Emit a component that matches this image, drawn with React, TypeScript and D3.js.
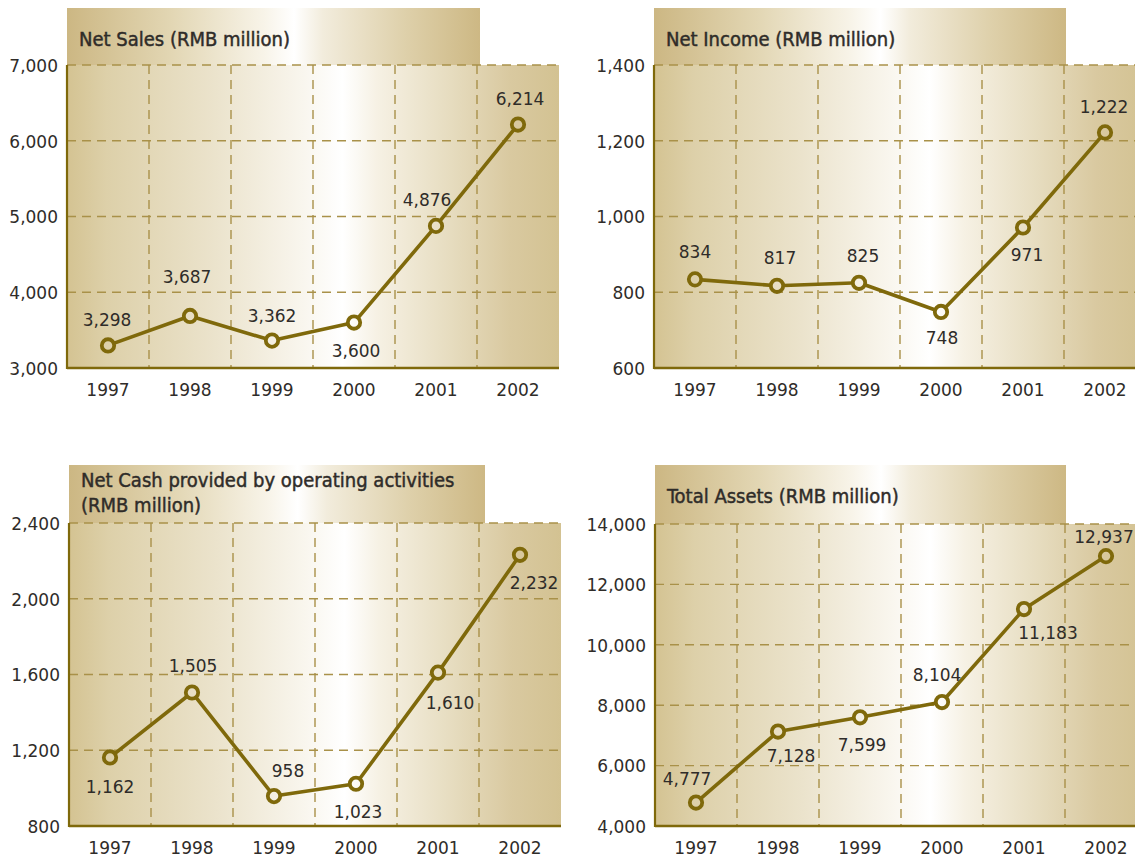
import React, { useEffect, useRef } from "react";
import * as d3 from "d3";

// chart data
const years = ["1997", "1998", "1999", "2000", "2001", "2002"];
const netSales = [3298, 3687, 3362, 3600, 4876, 6214];
const netIncome = [834, 817, 825, 748, 971, 1222];
const netCash = [1162, 1505, 958, 1023, 1610, 2232];
const totalAssets = [4777, 7128, 7599, 8104, 11183, 12937];

const salesTicks = [3000, 4000, 5000, 6000, 7000];
const incomeTicks = [600, 800, 1000, 1200, 1400];
const cashTicks = [800, 1200, 1600, 2000, 2400];
const assetTicks = [4000, 6000, 8000, 10000, 12000, 14000];

const salesTitle = ["Net Sales (RMB million)"];
const incomeTitle = ["Net Income (RMB million)"];
const cashTitle = ["Net Cash provided by operating activities", "(RMB million)"];
const assetTitle = ["Total Assets (RMB million)"];

// layout of each small chart (pixels)
const panels = [
  { values: netSales, ticks: salesTicks, title: salesTitle, x0: 67, top: 65, bottom: 368, titleTop: 8, titleW: 413,
    offs: [[-1, -26], [-3, -39], [0, -25], [2, 28], [-9, -26], [2, -26]] },
  { values: netIncome, ticks: incomeTicks, title: incomeTitle, x0: 654, top: 65, bottom: 368, titleTop: 8, titleW: 412,
    offs: [[0, -27], [3, -28], [4, -27], [1, 26], [4, 27], [-1, -26]] },
  { values: netCash, ticks: cashTicks, title: cashTitle, x0: 69, top: 523, bottom: 826, titleTop: 465, titleW: 416,
    offs: [[0, 29], [1, -27], [14, -25], [2, 28], [12, 30], [14, 28]] },
  { values: totalAssets, ticks: assetTicks, title: assetTitle, x0: 655, top: 524, bottom: 826, titleTop: 465, titleW: 411,
    offs: [[-9, -24], [13, 24], [2, 28], [-5, -27], [24, 24], [-2, -19]] },
];

const LINE = "#7f690b";
const GRID = "#a99149";
const TEXT = "#2f2c29";
const fmt = d3.format(",");

function App() {
  const svgRef = useRef(null);

  useEffect(() => {
    const svg = d3.select(svgRef.current);
    if (!svg.node()) return;
    svg.selectAll("*").remove();
    const defs = svg.append("defs");

    panels.forEach((p, i) => {
      const plotW = 492;
      const x = d3.scaleBand().domain(years).range([p.x0, p.x0 + plotW]);
      const y = d3
        .scaleLinear()
        .domain([p.ticks[0], p.ticks[p.ticks.length - 1]])
        .range([p.bottom, p.top]);

      // background gradients
      const bg = defs.append("linearGradient").attr("id", "bg" + i)
        .attr("gradientUnits", "userSpaceOnUse")
        .attr("x1", p.x0).attr("x2", p.x0 + plotW).attr("y1", 0).attr("y2", 0);
      [[0, "#d4c392"], [0.08, "#ddd0a9"], [0.3, "#ebe3cc"], [0.48, "#f9f6ee"], [0.56, "#ffffff"],
        [0.63, "#f6f1e4"], [0.78, "#e6dcbf"], [0.9, "#d9c9a0"], [1, "#d3c292"]]
        .forEach(([o, c]) => bg.append("stop").attr("offset", o).attr("stop-color", c));

      const tg = defs.append("linearGradient").attr("id", "tg" + i)
        .attr("gradientUnits", "userSpaceOnUse")
        .attr("x1", p.x0).attr("x2", p.x0 + p.titleW).attr("y1", 0).attr("y2", 0);
      [[0, "#ccb783"], [0.25, "#e2d6b3"], [0.48, "#f8f4e9"], [0.55, "#ffffff"], [0.62, "#f2ecdc"],
        [0.82, "#ded0aa"], [1, "#cdb884"]]
        .forEach(([o, c]) => tg.append("stop").attr("offset", o).attr("stop-color", c));

      const g = svg.append("g");

      g.append("rect")
        .attr("x", p.x0).attr("y", p.titleTop)
        .attr("width", p.titleW).attr("height", p.top - p.titleTop)
        .attr("fill", `url(#tg${i})`);

      g.append("rect")
        .attr("x", p.x0).attr("y", p.top)
        .attr("width", plotW).attr("height", p.bottom - p.top)
        .attr("fill", `url(#bg${i})`);

      // title
      p.title.forEach((t, k) => {
        g.append("text")
          .attr("x", p.x0 + 12)
          .attr("y", p.title.length > 1 ? p.titleTop + 22 + k * 25 : p.titleTop + 38)
          .attr("font-family", "'DejaVu Sans Condensed', 'DejaVu Sans', sans-serif")
          .attr("font-size", 20)
          .attr("fill", TEXT)
          .attr("stroke", TEXT).attr("stroke-width", 0.45)
          .text(t);
      });

      // horizontal grid
      g.selectAll(".hg").data(p.ticks.slice(1)).join("line")
        .attr("x1", p.x0).attr("x2", p.x0 + plotW)
        .attr("y1", (d) => y(d)).attr("y2", (d) => y(d))
        .attr("stroke", GRID).attr("stroke-width", 1.4).attr("stroke-dasharray", "9,6");

      // vertical grid at band edges
      g.selectAll(".vg").data(years.slice(1)).join("line")
        .attr("x1", (d) => x(d)).attr("x2", (d) => x(d))
        .attr("y1", p.top).attr("y2", p.bottom)
        .attr("stroke", GRID).attr("stroke-width", 1.4).attr("stroke-dasharray", "9,6");

      // axes
      g.append("line").attr("x1", p.x0).attr("x2", p.x0).attr("y1", p.top).attr("y2", p.bottom + 1)
        .attr("stroke", LINE).attr("stroke-width", 2.2);
      g.append("line").attr("x1", p.x0).attr("x2", p.x0 + plotW).attr("y1", p.bottom).attr("y2", p.bottom)
        .attr("stroke", LINE).attr("stroke-width", 2.4);

      // tick labels
      g.selectAll(".yl").data(p.ticks).join("text")
        .attr("x", p.x0 - 9).attr("y", (d) => y(d)).attr("dy", "0.4em")
        .attr("text-anchor", "end")
        .attr("font-family", "'DejaVu Sans', sans-serif").attr("font-size", 17)
        .attr("fill", TEXT)
        .text((d) => fmt(d));

      g.selectAll(".xl").data(years).join("text")
        .attr("x", (d) => x(d) + x.bandwidth() / 2).attr("y", p.bottom + 22).attr("dy", "0.36em")
        .attr("text-anchor", "middle")
        .attr("font-family", "'DejaVu Sans', sans-serif").attr("font-size", 17)
        .attr("fill", TEXT)
        .text((d) => d);

      // line + markers
      const cx = (j) => x(years[j]) + x.bandwidth() / 2;
      const line = d3.line().x((d, j) => cx(j)).y((d) => y(d));
      g.append("path").datum(p.values)
        .attr("d", line).attr("fill", "none")
        .attr("stroke", LINE).attr("stroke-width", 3.6).attr("stroke-linejoin", "round");

      g.selectAll(".pt").data(p.values).join("circle")
        .attr("cx", (d, j) => cx(j)).attr("cy", (d) => y(d)).attr("r", 6.2)
        .attr("fill", `url(#bg${i})`)
        .attr("stroke", LINE).attr("stroke-width", 3.8);

      g.selectAll(".vl").data(p.values).join("text")
        .attr("x", (d, j) => cx(j) + p.offs[j][0])
        .attr("y", (d, j) => y(d) + p.offs[j][1]).attr("dy", "0.36em")
        .attr("text-anchor", "middle")
        .attr("font-family", "'DejaVu Sans', sans-serif").attr("font-size", 17)
        .attr("fill", TEXT)
        .text((d) => fmt(d));
    });
  }, []);

  return (
    <div style={{ position: "absolute", left: 0, top: 0, width: 1135, height: 858, overflow: "hidden", background: "#fff" }}>
      <svg ref={svgRef} width={1135} height={858} style={{ display: "block" }} />
    </div>
  );
}

export default App;
